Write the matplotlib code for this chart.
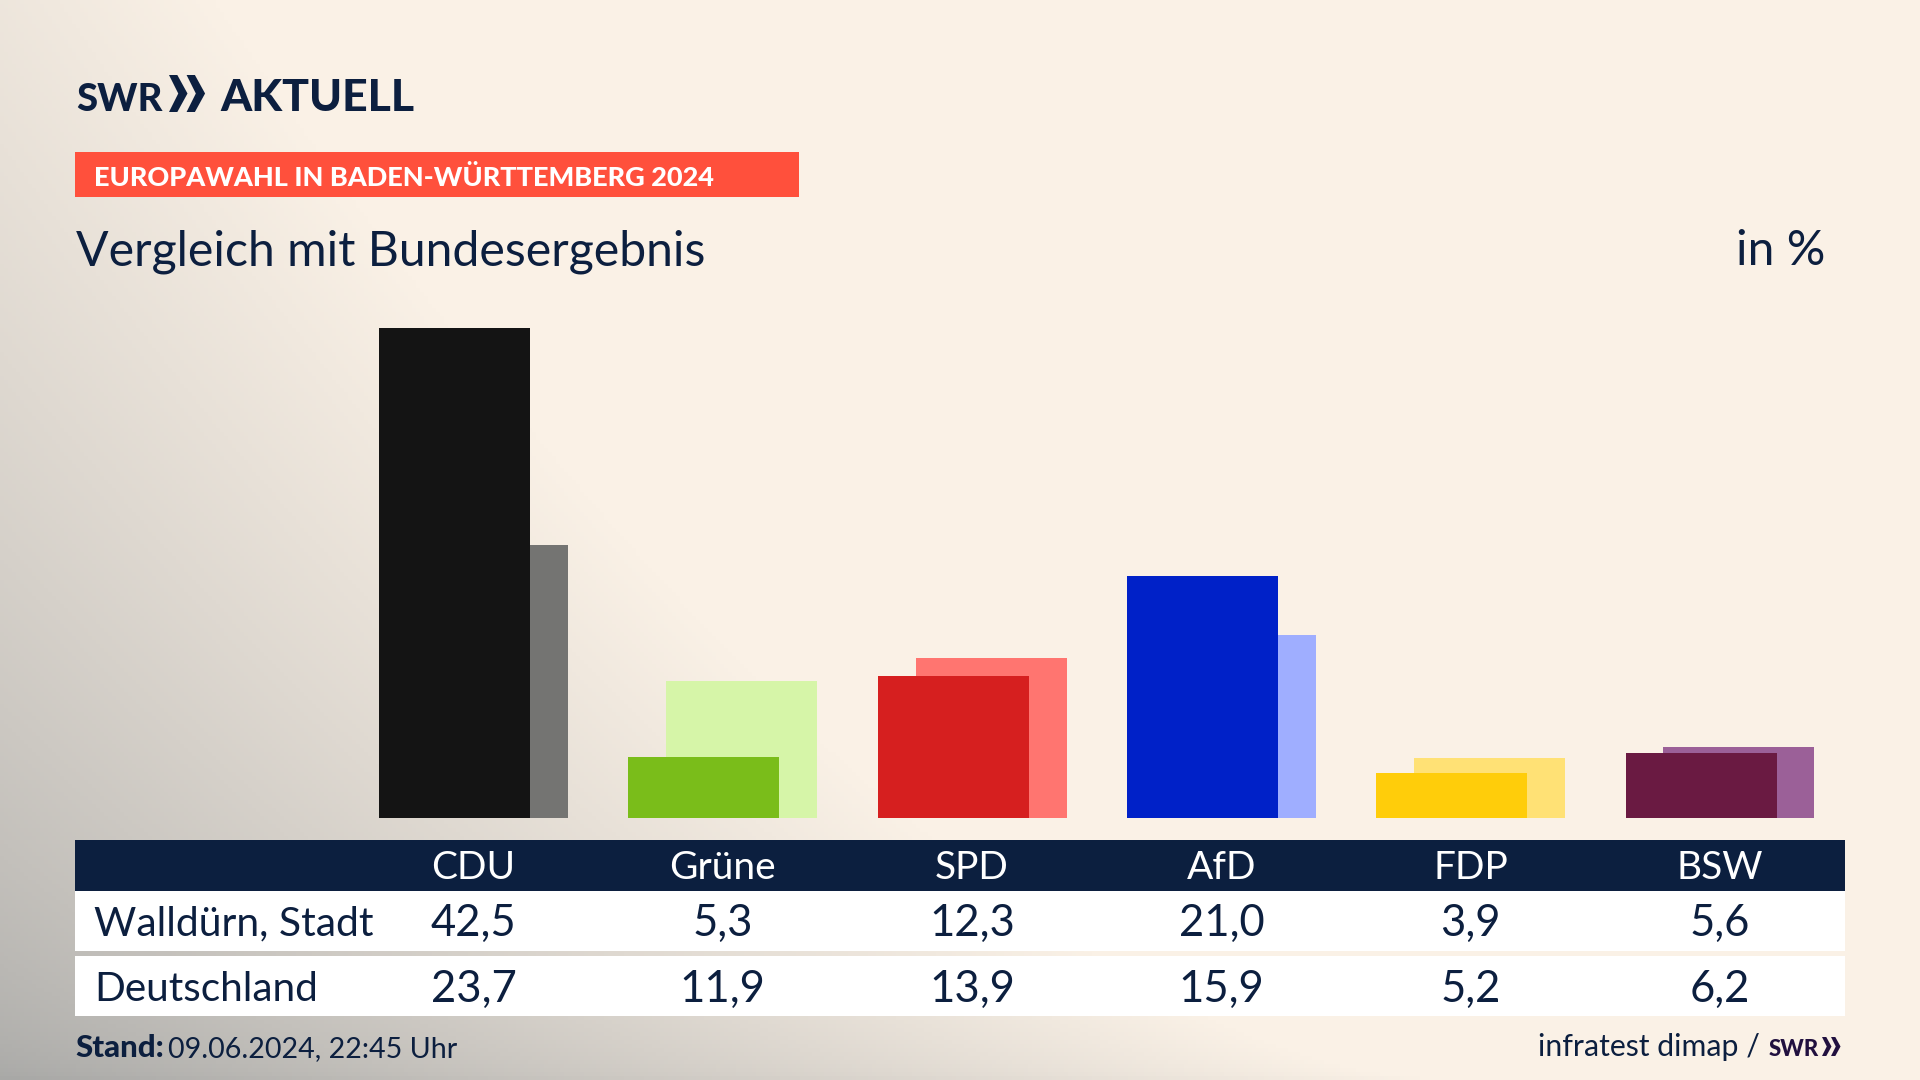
import numpy as np
import matplotlib
matplotlib.use("Agg")
import matplotlib.pyplot as plt
from matplotlib.patches import Rectangle, Polygon

parties = ["CDU", "Grüne", "SPD", "AfD", "FDP", "BSW"]
local_values = [42.5, 5.3, 12.3, 21.0, 3.9, 5.6]
national_values = [23.7, 11.9, 13.9, 15.9, 5.2, 6.2]
local_colors = ["#141414", "#7abd1a", "#d61f1f", "#0021c8", "#ffcd0a", "#6a1a42"]
national_colors = ["#747472", "#d6f5a8", "#ff7570", "#9faeff", "#ffe175", "#9b6098"]
row_labels = ["Walldürn, Stadt", "Deutschland"]

NAVY = "#0c1f3f"
CREAM = np.array([250, 241, 230]) / 255
GREY = np.array([168, 168, 166]) / 255
W, H = 1920, 1080
STEP = 249.3
FIRST = 473.5

plt.rcParams["font.family"] = ["Lato", "DejaVu Sans"]
fig = plt.figure(figsize=(19.2, 10.8), dpi=100)

# page layer in pixel coordinates, y pointing down
bg = fig.add_axes([0, 0, 1, 1])
bg.set_xlim(0, W)
bg.set_ylim(H, 0)
bg.axis("off")

# soft grey corner at the lower left
xx, yy = np.meshgrid(np.linspace(0, 1, 480), np.linspace(0, 1, 270))
t = np.clip(1.35 * xx + 0.85 * (1 - yy) ** 0.6, 0, 1)[..., None]
bg.imshow(GREY + (CREAM - GREY) * t, extent=(0, W, H, 0), aspect="auto", zorder=0)


def chevrons(x, y, h, color):
    w = h * 0.5
    for dx in (0, w * 0.95):
        bg.add_patch(Polygon([(x + dx, y), (x + dx + w * 0.45, y), (x + dx + w, y + h / 2),
                              (x + dx + w * 0.45, y + h), (x + dx, y + h), (x + dx + w * 0.5, y + h / 2)],
                             closed=True, color=color, lw=0, zorder=3))


bg.text(76, 111, "SWR", fontsize=27.5, fontweight="black", color=NAVY)
chevrons(169, 75, 37, NAVY)
bg.text(220, 111, "AKTUELL", fontsize=32, fontweight="black", color=NAVY)

bg.add_patch(Rectangle((75, 152), 724, 45, color="#ff503c", lw=0))
bg.text(94, 186, "EUROPAWAHL IN BADEN-WÜRTTEMBERG 2024", fontsize=19.5, fontweight="black", color="white")
bg.text(76, 265, "Vergleich mit Bundesergebnis", fontsize=34.7, color=NAVY)
bg.text(1825, 265, "in %", fontsize=34.7, color=NAVY, ha="right")

# table
bg.add_patch(Rectangle((75, 840), 1770, 51, color=NAVY, lw=0, zorder=1))
bg.add_patch(Rectangle((75, 891), 1770, 60, color="white", lw=0, zorder=1))
bg.add_patch(Rectangle((75, 956), 1770, 60, color="white", lw=0, zorder=1))

centers = FIRST + STEP * np.arange(len(parties))
for cx, name, a, b in zip(centers, parties, local_values, national_values):
    bg.text(cx, 879, name, fontsize=28, color="white", ha="center")
    bg.text(cx, 936, f"{a:.1f}".replace(".", ","), fontsize=31.4, color=NAVY, ha="center")
    bg.text(cx, 1002, f"{b:.1f}".replace(".", ","), fontsize=31.4, color=NAVY, ha="center")
bg.text(94, 935, row_labels[0], fontsize=29.4, color=NAVY)
bg.text(94, 1001, row_labels[1], fontsize=29.2, color=NAVY)

# footer
bg.text(75, 1057, "Stand:", fontsize=22.5, fontweight="black", color=NAVY)
bg.text(168, 1057, "09.06.2024, 22:45 Uhr", fontsize=20.6, color=NAVY)
bg.text(1760, 1056, "infratest dimap /", fontsize=21.8, color=NAVY, ha="right")
bg.text(1769, 1056, "SWR", fontsize=16, fontweight="black", color="#21103f")
chevrons(1822, 1037, 19, "#21103f")

# bars, x axis counts parties, y axis is percent, zero sits on pixel row 818
ax = fig.add_axes([0, 1 - 818 / H, 1, 490 / H])
ax.set_xlim(-FIRST / STEP, (W - FIRST) / STEP)
ax.set_ylim(0, 42.5)
ax.axis("off")
ax.patch.set_alpha(0)
pos = np.arange(len(parties))
ax.bar(pos + 0.076, national_values, width=0.606, color=national_colors, lw=0)
ax.bar(pos - 0.076, local_values, width=0.606, color=local_colors, lw=0)

fig.savefig("out.png", dpi=100)
